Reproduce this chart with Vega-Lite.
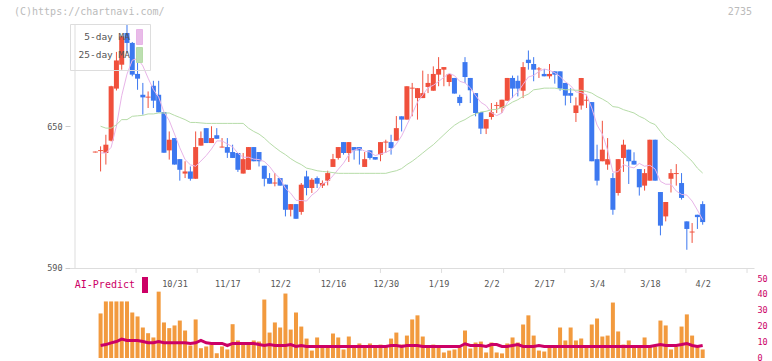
{
"$schema": "https://vega.github.io/schema/vega-lite/v6.json",
"width": 684, "height": 334,
"autosize": "none",
"padding": {"left": 70, "top": 24, "right": 18, "bottom": 3},
"background": "white",
"config": {"view": {"stroke": null}, "font": "DejaVu Sans Mono", "axis": {"labelFont": "DejaVu Sans Mono"}, "legend": {"labelFont": "DejaVu Sans Mono"}},
"title": {"text": "(C)https://chartnavi.com/", "anchor": "start", "frame": "group", "dx": -56, "dy": 16, "offset": 6, "fontSize": 10, "fontWeight": "normal", "color": "#bbbbbb", "font": "DejaVu Sans Mono"},
"datasets": {
"d": [
{"i":0,"o":638.8,"h":639.2,"l":638.8,"c":639.2,"v":0,"ai":null,"m5":null,"m25":null},
{"i":1,"o":639.4,"h":641.4,"l":630.8,"c":639.8,"v":28.2,"ai":7.9,"m5":638.6,"m25":649.9},
{"i":2,"o":638.6,"h":646.3,"l":633.7,"c":642.1,"v":35.8,"ai":8.5,"m5":638.6,"m25":649.1},
{"i":3,"o":643.8,"h":667.0,"l":643.5,"c":666.8,"v":35.8,"ai":9.6,"m5":641.0,"m25":649.1},
{"i":4,"o":665.8,"h":681.3,"l":665.0,"c":677.7,"v":35.8,"ai":10.4,"m5":650.0,"m25":650.5},
{"i":5,"o":675.9,"h":688.0,"l":673.8,"c":687.9,"v":35.8,"ai":12.0,"m5":662.8,"m25":652.7},
{"i":6,"o":689.3,"h":693.0,"l":680.8,"c":685.1,"v":35.8,"ai":11.1,"m5":671.9,"m25":652.7},
{"i":7,"o":685.1,"h":685.5,"l":671.0,"c":671.7,"v":28.8,"ai":11.1,"m5":677.8,"m25":654.1},
{"i":8,"o":672.0,"h":678.0,"l":665.3,"c":670.0,"v":26.3,"ai":11.1,"m5":678.5,"m25":654.3},
{"i":9,"o":663.2,"h":668.2,"l":654.8,"c":662.1,"v":19.3,"ai":10.4,"m5":675.4,"m25":654.5},
{"i":10,"o":662.0,"h":664.6,"l":657.6,"c":662.4,"v":15.7,"ai":9.6,"m5":670.2,"m25":655.1},
{"i":11,"o":667.0,"h":669.1,"l":657.6,"c":660.7,"v":13.0,"ai":9.6,"m5":665.4,"m25":655.1},
{"i":12,"o":663.2,"h":669.1,"l":655.8,"c":655.8,"v":42.0,"ai":10.4,"m5":662.2,"m25":655.5},
{"i":13,"o":655.9,"h":655.9,"l":638.7,"c":638.7,"v":22.5,"ai":9.6,"m5":655.9,"m25":655.5},
{"i":14,"o":639.7,"h":647.7,"l":635.8,"c":644.2,"v":18.9,"ai":9.6,"m5":652.3,"m25":655.5},
{"i":15,"o":644.9,"h":644.9,"l":633.7,"c":633.7,"v":20.6,"ai":9.6,"m5":646.6,"m25":654.5},
{"i":16,"o":636.0,"h":636.0,"l":626.9,"c":631.5,"v":23.7,"ai":9.6,"m5":640.8,"m25":653.6},
{"i":17,"o":629.9,"h":635.1,"l":628.0,"c":630.8,"v":17.4,"ai":9.6,"m5":635.8,"m25":652.7},
{"i":18,"o":630.8,"h":632.9,"l":626.9,"c":627.7,"v":7.9,"ai":9.2,"m5":633.6,"m25":651.5},
{"i":19,"o":627.7,"h":647.7,"l":627.7,"c":641.1,"v":24.4,"ai":9.6,"m5":633.0,"m25":651.5},
{"i":20,"o":641.7,"h":647.7,"l":641.7,"c":644.9,"v":6.2,"ai":11.1,"m5":635.2,"m25":651.3},
{"i":21,"o":649.1,"h":649.1,"l":642.8,"c":642.8,"v":7.3,"ai":9.6,"m5":637.5,"m25":651.1},
{"i":22,"o":642.8,"h":649.9,"l":642.8,"c":644.9,"v":8.5,"ai":9.2,"m5":640.3,"m25":651.1},
{"i":23,"o":646.1,"h":649.1,"l":644.6,"c":644.6,"v":3.0,"ai":9.2,"m5":643.7,"m25":651.1},
{"i":24,"o":640.9,"h":644.9,"l":640.9,"c":641.3,"v":7.3,"ai":9.2,"m5":643.7,"m25":651.1},
{"i":25,"o":641.1,"h":644.9,"l":636.5,"c":638.7,"v":5.4,"ai":7.9,"m5":642.4,"m25":651.1},
{"i":26,"o":639.0,"h":642.1,"l":636.5,"c":636.5,"v":21.4,"ai":9.2,"m5":641.2,"m25":651.1},
{"i":27,"o":638.6,"h":638.6,"l":630.6,"c":631.5,"v":11.1,"ai":9.2,"m5":638.5,"m25":651.1},
{"i":28,"o":629.9,"h":638.6,"l":629.9,"c":636.0,"v":8.5,"ai":9.2,"m5":636.8,"m25":651.1},
{"i":29,"o":631.5,"h":641.1,"l":631.5,"c":641.1,"v":8.5,"ai":9.2,"m5":636.8,"m25":649.1},
{"i":30,"o":641.1,"h":641.1,"l":635.1,"c":635.1,"v":11.1,"ai":9.2,"m5":636.0,"m25":647.7},
{"i":31,"o":639.0,"h":639.0,"l":632.9,"c":635.1,"v":10.4,"ai":8.5,"m5":635.8,"m25":646.6},
{"i":32,"o":633.2,"h":633.2,"l":624.5,"c":627.7,"v":37.0,"ai":8.0,"m5":635.0,"m25":644.9},
{"i":33,"o":628.0,"h":630.1,"l":625.6,"c":625.6,"v":16.1,"ai":8.5,"m5":632.9,"m25":642.8},
{"i":34,"o":625.7,"h":630.1,"l":624.5,"c":626.1,"v":22.5,"ai":7.9,"m5":629.9,"m25":641.0},
{"i":35,"o":628.0,"h":628.0,"l":624.8,"c":624.8,"v":19.3,"ai":7.9,"m5":627.8,"m25":639.3},
{"i":36,"o":625.2,"h":625.2,"l":611.8,"c":614.6,"v":40.8,"ai":7.9,"m5":623.7,"m25":637.9},
{"i":37,"o":614.6,"h":617.0,"l":611.8,"c":617.0,"v":18.0,"ai":8.5,"m5":621.6,"m25":636.2},
{"i":38,"o":617.0,"h":617.0,"l":610.8,"c":610.8,"v":28.8,"ai":7.3,"m5":618.6,"m25":634.8},
{"i":39,"o":613.7,"h":625.9,"l":612.5,"c":625.2,"v":19.9,"ai":7.9,"m5":618.5,"m25":633.7},
{"i":40,"o":628.7,"h":631.1,"l":620.7,"c":623.8,"v":12.3,"ai":7.3,"m5":618.3,"m25":632.2},
{"i":41,"o":623.8,"h":628.0,"l":621.7,"c":627.3,"v":4.7,"ai":7.3,"m5":620.8,"m25":631.7},
{"i":42,"o":628.0,"h":628.7,"l":623.8,"c":625.6,"v":13.0,"ai":7.3,"m5":622.5,"m25":631.1},
{"i":43,"o":624.8,"h":627.0,"l":623.8,"c":625.9,"v":7.3,"ai":7.3,"m5":625.6,"m25":630.8},
{"i":44,"o":626.9,"h":631.1,"l":624.9,"c":630.1,"v":7.3,"ai":7.3,"m5":626.5,"m25":630.6},
{"i":45,"o":632.7,"h":638.2,"l":632.7,"c":636.0,"v":15.5,"ai":7.3,"m5":629.0,"m25":630.3},
{"i":46,"o":636.5,"h":641.1,"l":635.8,"c":641.1,"v":13.0,"ai":7.3,"m5":631.7,"m25":630.0},
{"i":47,"o":643.2,"h":643.2,"l":637.9,"c":638.6,"v":5.4,"ai":7.3,"m5":634.3,"m25":630.0},
{"i":48,"o":638.6,"h":643.2,"l":634.8,"c":643.2,"v":13.6,"ai":7.3,"m5":637.8,"m25":630.0},
{"i":49,"o":641.1,"h":641.1,"l":635.8,"c":639.7,"v":7.3,"ai":7.3,"m5":639.7,"m25":630.0},
{"i":50,"o":641.1,"h":641.1,"l":633.7,"c":639.7,"v":9.2,"ai":7.3,"m5":640.5,"m25":630.0},
{"i":51,"o":632.7,"h":639.0,"l":632.7,"c":636.0,"v":7.3,"ai":7.3,"m5":639.4,"m25":630.0},
{"i":52,"o":639.7,"h":639.7,"l":635.8,"c":636.5,"v":9.2,"ai":7.3,"m5":639.0,"m25":630.0},
{"i":53,"o":636.9,"h":636.9,"l":635.8,"c":635.8,"v":7.3,"ai":7.3,"m5":637.5,"m25":630.0},
{"i":54,"o":637.9,"h":643.2,"l":635.1,"c":643.2,"v":8.5,"ai":7.3,"m5":638.2,"m25":630.0},
{"i":55,"o":643.0,"h":644.2,"l":638.6,"c":643.4,"v":7.3,"ai":7.3,"m5":638.9,"m25":630.0},
{"i":56,"o":643.2,"h":646.3,"l":637.9,"c":640.7,"v":12.3,"ai":7.9,"m5":639.9,"m25":630.6},
{"i":57,"o":643.8,"h":654.2,"l":643.8,"c":649.1,"v":16.1,"ai":7.9,"m5":642.4,"m25":631.1},
{"i":58,"o":654.1,"h":654.1,"l":647.7,"c":652.7,"v":8.5,"ai":7.3,"m5":645.8,"m25":632.0},
{"i":59,"o":652.7,"h":666.8,"l":652.7,"c":666.8,"v":14.2,"ai":7.9,"m5":650.5,"m25":633.7},
{"i":60,"o":665.8,"h":668.2,"l":654.1,"c":666.2,"v":24.4,"ai":7.9,"m5":655.1,"m25":635.1},
{"i":61,"o":661.8,"h":666.0,"l":652.7,"c":666.0,"v":27.0,"ai":7.9,"m5":660.1,"m25":636.8},
{"i":62,"o":661.8,"h":673.4,"l":661.8,"c":663.9,"v":13.6,"ai":7.3,"m5":663.1,"m25":638.6},
{"i":63,"o":666.5,"h":672.0,"l":663.9,"c":668.2,"v":7.3,"ai":7.3,"m5":666.2,"m25":640.4},
{"i":64,"o":664.9,"h":675.2,"l":664.9,"c":672.0,"v":8.5,"ai":7.3,"m5":667.2,"m25":642.1},
{"i":65,"o":671.7,"h":679.1,"l":666.8,"c":674.1,"v":7.3,"ai":7.3,"m5":668.8,"m25":644.2},
{"i":66,"o":673.8,"h":674.9,"l":666.8,"c":674.9,"v":3.5,"ai":7.3,"m5":670.6,"m25":646.3},
{"i":67,"o":668.6,"h":672.0,"l":666.8,"c":672.0,"v":4.7,"ai":7.3,"m5":672.2,"m25":648.4},
{"i":68,"o":670.3,"h":670.3,"l":663.7,"c":663.7,"v":5.4,"ai":7.3,"m5":671.3,"m25":650.3},
{"i":69,"o":662.3,"h":663.2,"l":658.6,"c":659.7,"v":6.7,"ai":7.3,"m5":668.9,"m25":651.7},
{"i":70,"o":677.0,"h":679.1,"l":668.2,"c":670.7,"v":17.4,"ai":9.0,"m5":668.2,"m25":652.7},
{"i":71,"o":670.3,"h":670.3,"l":659.7,"c":665.1,"v":6.0,"ai":7.9,"m5":666.2,"m25":654.1},
{"i":72,"o":663.9,"h":663.9,"l":654.1,"c":655.5,"v":9.8,"ai":7.9,"m5":662.9,"m25":655.1},
{"i":73,"o":655.9,"h":655.9,"l":646.6,"c":648.9,"v":10.4,"ai":7.9,"m5":660.0,"m25":655.9},
{"i":74,"o":648.9,"h":652.9,"l":646.6,"c":652.9,"v":3.5,"ai":7.3,"m5":658.6,"m25":656.2},
{"i":75,"o":653.8,"h":659.7,"l":652.7,"c":655.8,"v":9.8,"ai":8.5,"m5":655.6,"m25":656.9},
{"i":76,"o":658.5,"h":660.1,"l":655.5,"c":658.9,"v":3.5,"ai":8.5,"m5":654.4,"m25":657.0},
{"i":77,"o":657.6,"h":661.1,"l":655.5,"c":661.1,"v":2.9,"ai":7.3,"m5":655.5,"m25":657.9},
{"i":78,"o":660.7,"h":670.3,"l":660.7,"c":670.3,"v":9.2,"ai":7.3,"m5":659.8,"m25":658.7},
{"i":79,"o":670.3,"h":671.3,"l":661.8,"c":665.8,"v":13.0,"ai":7.9,"m5":662.3,"m25":660.1},
{"i":80,"o":669.1,"h":671.3,"l":662.5,"c":665.8,"v":9.8,"ai":8.5,"m5":664.3,"m25":661.1},
{"i":81,"o":664.9,"h":677.0,"l":661.8,"c":674.9,"v":21.2,"ai":7.3,"m5":667.6,"m25":662.5},
{"i":82,"o":678.0,"h":681.9,"l":673.8,"c":676.6,"v":27.0,"ai":7.3,"m5":670.7,"m25":663.5},
{"i":83,"o":676.2,"h":679.1,"l":668.9,"c":673.8,"v":14.2,"ai":7.3,"m5":671.4,"m25":665.3},
{"i":84,"o":673.9,"h":674.9,"l":670.3,"c":674.3,"v":4.7,"ai":7.9,"m5":673.0,"m25":665.6},
{"i":85,"o":672.0,"h":674.1,"l":671.0,"c":671.0,"v":4.1,"ai":7.3,"m5":674.1,"m25":666.0},
{"i":86,"o":671.0,"h":676.2,"l":670.0,"c":672.0,"v":6.7,"ai":7.3,"m5":673.5,"m25":666.0},
{"i":87,"o":673.1,"h":673.1,"l":667.9,"c":671.7,"v":6.7,"ai":7.3,"m5":672.5,"m25":666.0},
{"i":88,"o":673.1,"h":673.1,"l":664.9,"c":665.8,"v":19.3,"ai":7.3,"m5":670.9,"m25":665.6},
{"i":89,"o":668.2,"h":668.2,"l":658.7,"c":662.8,"v":11.1,"ai":7.3,"m5":668.7,"m25":665.3},
{"i":90,"o":663.9,"h":666.0,"l":659.7,"c":662.8,"v":19.3,"ai":7.3,"m5":667.0,"m25":665.3},
{"i":91,"o":655.5,"h":662.1,"l":651.7,"c":658.7,"v":11.1,"ai":7.3,"m5":664.4,"m25":665.1},
{"i":92,"o":658.7,"h":670.3,"l":656.9,"c":670.3,"v":12.3,"ai":7.3,"m5":664.1,"m25":665.1},
{"i":93,"o":660.7,"h":663.2,"l":657.6,"c":661.1,"v":7.3,"ai":7.3,"m5":663.1,"m25":664.6},
{"i":94,"o":660.1,"h":660.1,"l":635.1,"c":635.1,"v":21.2,"ai":7.3,"m5":657.6,"m25":663.9},
{"i":95,"o":636.0,"h":642.1,"l":624.9,"c":626.9,"v":25.0,"ai":7.3,"m5":650.4,"m25":662.5},
{"i":96,"o":635.1,"h":652.2,"l":635.1,"c":640.0,"v":13.6,"ai":7.3,"m5":646.6,"m25":661.4},
{"i":97,"o":633.7,"h":644.9,"l":631.5,"c":636.0,"v":14.2,"ai":7.3,"m5":639.8,"m25":660.1},
{"i":98,"o":628.0,"h":630.1,"l":612.5,"c":614.6,"v":35.1,"ai":7.3,"m5":630.5,"m25":658.2},
{"i":99,"o":621.7,"h":636.0,"l":620.6,"c":636.0,"v":16.8,"ai":7.3,"m5":630.7,"m25":657.9},
{"i":100,"o":636.5,"h":644.2,"l":630.6,"c":642.1,"v":8.5,"ai":7.3,"m5":633.7,"m25":656.9},
{"i":101,"o":640.0,"h":640.0,"l":625.5,"c":635.1,"v":11.1,"ai":7.3,"m5":632.8,"m25":656.2},
{"i":102,"o":635.3,"h":638.9,"l":633.7,"c":633.7,"v":7.3,"ai":7.3,"m5":632.3,"m25":655.5},
{"i":103,"o":631.8,"h":631.8,"l":620.6,"c":624.1,"v":7.3,"ai":7.3,"m5":634.2,"m25":654.1},
{"i":104,"o":624.8,"h":631.8,"l":622.7,"c":630.1,"v":13.0,"ai":7.3,"m5":633.0,"m25":653.1},
{"i":105,"o":626.9,"h":644.2,"l":626.9,"c":644.2,"v":7.3,"ai":7.3,"m5":633.4,"m25":651.5},
{"i":106,"o":644.2,"h":644.2,"l":626.9,"c":626.9,"v":7.3,"ai":7.9,"m5":631.8,"m25":650.6},
{"i":107,"o":622.1,"h":622.1,"l":603.8,"c":607.9,"v":23.7,"ai":8.5,"m5":626.6,"m25":647.7},
{"i":108,"o":611.8,"h":617.9,"l":609.7,"c":617.9,"v":20.6,"ai":7.9,"m5":625.4,"m25":644.9},
{"i":109,"o":627.7,"h":631.8,"l":621.9,"c":630.1,"v":5.4,"ai":7.9,"m5":625.4,"m25":643.2},
{"i":110,"o":629.7,"h":633.9,"l":624.8,"c":630.1,"v":7.3,"ai":7.9,"m5":622.5,"m25":641.4},
{"i":111,"o":625.9,"h":630.1,"l":618.9,"c":619.6,"v":19.9,"ai":8.5,"m5":621.1,"m25":639.3},
{"i":112,"o":609.7,"h":609.7,"l":597.7,"c":606.5,"v":27.6,"ai":9.2,"m5":620.8,"m25":637.2},
{"i":113,"o":605.0,"h":609.0,"l":600.6,"c":605.4,"v":14.2,"ai":7.9,"m5":618.3,"m25":635.1},
{"i":114,"o":612.5,"h":612.5,"l":606.5,"c":611.5,"v":7.3,"ai":7.3,"m5":614.5,"m25":632.2},
{"i":115,"o":617.0,"h":618.2,"l":608.3,"c":609.4,"v":5.4,"ai":7.9,"m5":610.4,"m25":630.1}
],
"ticks": [{"t":7.72},{"t":19.29},{"t":31.04},{"t":42.43},{"t":53.99},{"t":65.56},{"t":77.31},{"t":88.88},{"t":100.26},{"t":111.83},{"t":123.4}],
"corner": [{"txt":"2735"}]
},
"layer": [
{
"layer": [
{"data": {"values": [{}]}, "mark": {"type": "rule", "color": "#dddddd", "strokeWidth": 1},
 "encoding": {
  "x": {"datum": -3.843, "type": "quantitative", "scale": {"domain": [-3.843, 123.77], "nice": false, "zero": false},
        "axis": {"orient": "bottom", "offset": -90, "values": [15,25,35,45,55,65,75,85,95,105,115], "labelExpr": "{'15':'10/31','25':'11/17','35':'12/2','45':'12/16','55':'12/30','65':'1/19','75':'2/2','85':'2/17','95':'3/4','105':'3/18','115':'4/2'}[datum.value]", "ticks": false, "tickSize": 0, "domain": true, "domainColor": "#dddddd", "labelColor": "#555555", "labelFontSize": 8.5, "labelPadding": 11, "grid": false, "title": null, "labelFlush": false, "labelOverlap": false}},
  "y": {"datum": 590, "type": "quantitative", "scale": {"domain": [551.97, 693.1], "nice": false, "zero": false},
        "axis": {"orient": "left", "values": [590, 650], "domain": false, "ticks": true, "tickSize": 5, "tickColor": "#cccccc", "labelColor": "#555555", "labelFontSize": 8.5, "labelPadding": 3, "grid": false, "title": null}},
  "y2": {"datum": 693.1}}},
{"data": {"name": "ticks"}, "mark": {"type": "rule", "color": "#dddddd", "strokeWidth": 1},
 "encoding": {
  "x": {"field": "t", "type": "quantitative", "scale": {"domain": [-3.843, 123.77], "nice": false, "zero": false},
        "axis": {"orient": "bottom", "offset": -90, "values": [15,25,35,45,55,65,75,85,95,105,115], "labelExpr": "{'15':'10/31','25':'11/17','35':'12/2','45':'12/16','55':'12/30','65':'1/19','75':'2/2','85':'2/17','95':'3/4','105':'3/18','115':'4/2'}[datum.value]", "ticks": false, "tickSize": 0, "domain": true, "domainColor": "#dddddd", "labelColor": "#555555", "labelFontSize": 8.5, "labelPadding": 11, "grid": false, "title": null, "labelFlush": false, "labelOverlap": false}},
  "y": {"datum": 590, "type": "quantitative", "scale": {"domain": [551.97, 693.1], "nice": false, "zero": false},
        "axis": {"orient": "left", "values": [590, 650], "domain": false, "ticks": true, "tickSize": 5, "tickColor": "#cccccc", "labelColor": "#555555", "labelFontSize": 8.5, "labelPadding": 3, "grid": false, "title": null}},
  "y2": {"datum": 587.9}}},
{"data": {"name": "d"}, "mark": {"type": "rule", "strokeWidth": 1},
 "encoding": {
  "x": {"field": "i", "type": "quantitative", "scale": {"domain": [-3.843, 123.77], "nice": false, "zero": false},
        "axis": {"orient": "bottom", "offset": -90, "values": [15,25,35,45,55,65,75,85,95,105,115], "labelExpr": "{'15':'10/31','25':'11/17','35':'12/2','45':'12/16','55':'12/30','65':'1/19','75':'2/2','85':'2/17','95':'3/4','105':'3/18','115':'4/2'}[datum.value]", "ticks": false, "tickSize": 0, "domain": true, "domainColor": "#dddddd", "labelColor": "#555555", "labelFontSize": 8.5, "labelPadding": 11, "grid": false, "title": null, "labelFlush": false, "labelOverlap": false}},
  "y": {"field": "l", "type": "quantitative", "scale": {"domain": [551.97, 693.1], "nice": false, "zero": false},
        "axis": {"orient": "left", "values": [590, 650], "domain": false, "ticks": true, "tickSize": 5, "tickColor": "#cccccc", "labelColor": "#555555", "labelFontSize": 8.5, "labelPadding": 3, "grid": false, "title": null}},
  "y2": {"field": "h"},
  "color": {"condition": {"test": "datum.c >= datum.o", "value": "#f0503c"}, "value": "#3c78f0"}}},
{"data": {"name": "d"}, "mark": {"type": "bar", "width": 5},
 "encoding": {
  "x": {"field": "i", "type": "quantitative", "scale": {"domain": [-3.843, 123.77], "nice": false, "zero": false},
        "axis": {"orient": "bottom", "offset": -90, "values": [15,25,35,45,55,65,75,85,95,105,115], "labelExpr": "{'15':'10/31','25':'11/17','35':'12/2','45':'12/16','55':'12/30','65':'1/19','75':'2/2','85':'2/17','95':'3/4','105':'3/18','115':'4/2'}[datum.value]", "ticks": false, "tickSize": 0, "domain": true, "domainColor": "#dddddd", "labelColor": "#555555", "labelFontSize": 8.5, "labelPadding": 11, "grid": false, "title": null, "labelFlush": false, "labelOverlap": false}},
  "y": {"field": "o", "type": "quantitative", "scale": {"domain": [551.97, 693.1], "nice": false, "zero": false},
        "axis": {"orient": "left", "values": [590, 650], "domain": false, "ticks": true, "tickSize": 5, "tickColor": "#cccccc", "labelColor": "#555555", "labelFontSize": 8.5, "labelPadding": 3, "grid": false, "title": null}},
  "y2": {"field": "c"},
  "color": {"condition": {"test": "datum.c >= datum.o", "value": "#f0503c"}, "value": "#3c78f0"}}},
{"data": {"name": "d"}, "transform": [{"fold": ["m5", "m25"], "as": ["key", "val"]}],
 "mark": {"type": "line", "strokeWidth": 1},
 "encoding": {
  "x": {"field": "i", "type": "quantitative", "scale": {"domain": [-3.843, 123.77], "nice": false, "zero": false},
        "axis": {"orient": "bottom", "offset": -90, "values": [15,25,35,45,55,65,75,85,95,105,115], "labelExpr": "{'15':'10/31','25':'11/17','35':'12/2','45':'12/16','55':'12/30','65':'1/19','75':'2/2','85':'2/17','95':'3/4','105':'3/18','115':'4/2'}[datum.value]", "ticks": false, "tickSize": 0, "domain": true, "domainColor": "#dddddd", "labelColor": "#555555", "labelFontSize": 8.5, "labelPadding": 11, "grid": false, "title": null, "labelFlush": false, "labelOverlap": false}},
  "y": {"field": "val", "type": "quantitative", "scale": {"domain": [551.97, 693.1], "nice": false, "zero": false},
        "axis": {"orient": "left", "values": [590, 650], "domain": false, "ticks": true, "tickSize": 5, "tickColor": "#cccccc", "labelColor": "#555555", "labelFontSize": 8.5, "labelPadding": 3, "grid": false, "title": null}},
  "color": {"field": "key", "type": "nominal", "scale": {"domain": ["m5", "m25"], "range": ["#e8b4e8", "#b6dca8"]},
    "legend": {"orient": "top-left", "offset": 0, "title": null,
      "labelExpr": "datum.value == 'm5' ? '5-day MA' : '25-day MA'",
      "labelFontSize": 9.5, "labelColor": "#555555", "labelAlign": "right", "labelOffset": -17.5, "symbolOffset": 56.5,
      "symbolType": "M-0.4,-1L0.4,-1L0.4,1L-0.4,1Z", "symbolSize": 225, "rowPadding": -3, "padding": 5,
      "strokeColor": "#dddddd", "fillColor": "transparent", "zindex": 0,
      "encode": {"symbols": {"update": {"fill": {"signal": "datum.value == 'm5' ? '#e8bce8' : '#bcdfb0'"}, "stroke": {"value": "#666666"}, "strokeWidth": {"value": 1}, "opacity": {"value": 1}}}}}}}},
{"data": {"name": "corner"}, "mark": {"type": "text", "align": "right", "baseline": "middle", "fontSize": 10, "color": "#bbbbbb", "font": "DejaVu Sans Mono"},
 "encoding": {
  "x": {"datum": 124.33, "type": "quantitative", "scale": {"domain": [-3.843, 123.77], "nice": false, "zero": false},
        "axis": {"orient": "bottom", "offset": -90, "values": [15,25,35,45,55,65,75,85,95,105,115], "labelExpr": "{'15':'10/31','25':'11/17','35':'12/2','45':'12/16','55':'12/30','65':'1/19','75':'2/2','85':'2/17','95':'3/4','105':'3/18','115':'4/2'}[datum.value]", "ticks": false, "tickSize": 0, "domain": true, "domainColor": "#dddddd", "labelColor": "#555555", "labelFontSize": 8.5, "labelPadding": 11, "grid": false, "title": null, "labelFlush": false, "labelOverlap": false}},
  "y": {"datum": 698.2, "type": "quantitative", "scale": {"domain": [551.97, 693.1], "nice": false, "zero": false},
        "axis": {"orient": "left", "values": [590, 650], "domain": false, "ticks": true, "tickSize": 5, "tickColor": "#cccccc", "labelColor": "#555555", "labelFontSize": 8.5, "labelPadding": 3, "grid": false, "title": null}},
  "text": {"field": "txt"}}}
]
},
{
"layer": [
{"data": {"name": "d"}, "mark": {"type": "bar", "width": 4, "color": "#f29a3e"},
 "encoding": {
  "x": {"field": "i", "type": "quantitative", "scale": {"domain": [-3.843, 123.77], "nice": false, "zero": false},
        "axis": {"orient": "bottom", "offset": -90, "values": [15,25,35,45,55,65,75,85,95,105,115], "labelExpr": "{'15':'10/31','25':'11/17','35':'12/2','45':'12/16','55':'12/30','65':'1/19','75':'2/2','85':'2/17','95':'3/4','105':'3/18','115':'4/2'}[datum.value]", "ticks": false, "tickSize": 0, "domain": true, "domainColor": "#dddddd", "labelColor": "#555555", "labelFontSize": 8.5, "labelPadding": 11, "grid": false, "title": null, "labelFlush": false, "labelOverlap": false}},
  "y": {"field": "v", "type": "quantitative", "scale": {"domain": [0, 211.4], "nice": false, "zero": false},
        "axis": {"orient": "right", "values": [0,10,20,30,40,50], "domain": false, "ticks": false, "tickSize": 0, "labelPadding": 3, "labelOffset": -1, "labelColor": "#cc0066", "labelFontSize": 8.5, "grid": false, "title": null}}}},
{"data": {"name": "d"}, "mark": {"type": "line", "strokeWidth": 3},
 "encoding": {
  "x": {"field": "i", "type": "quantitative", "scale": {"domain": [-3.843, 123.77], "nice": false, "zero": false},
        "axis": {"orient": "bottom", "offset": -90, "values": [15,25,35,45,55,65,75,85,95,105,115], "labelExpr": "{'15':'10/31','25':'11/17','35':'12/2','45':'12/16','55':'12/30','65':'1/19','75':'2/2','85':'2/17','95':'3/4','105':'3/18','115':'4/2'}[datum.value]", "ticks": false, "tickSize": 0, "domain": true, "domainColor": "#dddddd", "labelColor": "#555555", "labelFontSize": 8.5, "labelPadding": 11, "grid": false, "title": null, "labelFlush": false, "labelOverlap": false}},
  "y": {"field": "ai", "type": "quantitative", "scale": {"domain": [0, 211.4], "nice": false, "zero": false},
        "axis": {"orient": "right", "values": [0,10,20,30,40,50], "domain": false, "ticks": false, "tickSize": 0, "labelPadding": 3, "labelOffset": -1, "labelColor": "#cc0066", "labelFontSize": 8.5, "grid": false, "title": null}},
  "color": {"datum": "AI-Predict", "type": "nominal", "scale": {"domain": ["AI-Predict"], "range": ["#cc0066"]},
    "legend": {"orient": "none", "legendX": 67, "legendY": 253, "title": null, "padding": 0,
      "labelFontSize": 10, "labelColor": "#cc0066", "labelAlign": "right", "labelOffset": -18,
      "symbolType": "M-0.375,-1L0.375,-1L0.375,1L-0.375,1Z", "symbolSize": 256,
      "encode": {"symbols": {"update": {"fill": {"value": "#cc0066"}, "stroke": {"value": "#cc0066"}, "strokeWidth": {"value": 0}, "opacity": {"value": 1}}}}}}}}
]
}
],
"resolve": {"scale": {"y": "independent", "color": "independent"}}
}
